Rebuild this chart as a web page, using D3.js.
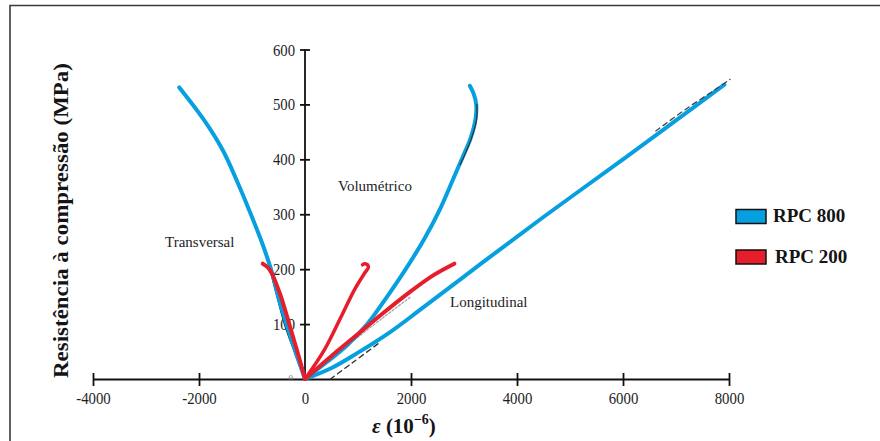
<!DOCTYPE html>
<html><head><meta charset="utf-8">
<script src="https://cdn.jsdelivr.net/npm/d3@7/dist/d3.min.js"></script>
<style>
body{margin:0;background:#fff;}
svg{display:block;}
</style></head>
<body>
<svg id="chart" width="880" height="441"></svg>
<script>
// ---- data (strain in 1e-6, stress in MPa) ----
const xTicks = [-4000, -2000, 0, 2000, 4000, 6000, 8000];
const yTicks = [100, 200, 300, 400, 500, 600];
const seriesNames = ["RPC 800", "RPC 200"];
const curveLabels = ["Transversal", "Volumétrico", "Longitudinal"];

const rpc800Transversal = [[0,0],[-180,50],[-350,100],[-505,150],[-642,200],[-830,253],[-1051,307],[-1290,362],[-1553,417],[-1900,471],[-2372,531]];
const rpc800Volumetric  = [[0,0],[400,30],[800,62],[1183,101],[1550,150],[1900,200],[2250,255],[2550,310],[2800,365],[2980,405],[3130,440],[3220,475],[3230,500],[3180,520],[3110,534]];
const rpc800Longitudinal= [[0,0],[500,20],[1000,48],[1600,85],[2200,128],[3321,210],[4500,295],[6000,400],[7000,471],[7913,536]];

const rpc200Transversal = [[0,0],[-130,45],[-264,89],[-453,150],[-530,170],[-610,189],[-700,203],[-798,210]];
const rpc200Volumetric  = [[0,0],[365,53],[679,113],[930,162],[1120,192],[1195,203],[1180,208],[1120,210],[1085,208]];
const rpc200Longitudinal= [[0,0],[500,42],[1000,82],[1500,122],[2000,160],[2440,190],[2818,210]];

// faint black reference curves underneath (from original figure)
const refTransversal = [[0,0],[-195,50],[-380,100],[-520,150],[-640,195]];
const refLongDash    = [[480,0],[900,30],[1430,68]];
const refLongTop     = [[6600,448],[7200,490],[7700,522],[8000,542]];
const refLongDotted  = [[930,71],[1450,110],[2000,150]];
const refVolEdge     = [[2900,390],[3100,435],[3205,470],[3215,500]];

// ---- layout ----
const serif = "'Liberation Serif','DejaVu Serif',serif";
const svg = d3.select("#chart");
const x = d3.scaleLinear().domain([-4000, 8000]).range([93, 729]);
const y = d3.scaleLinear().domain([0, 600]).range([379, 49.5]);

// border (top & left)
svg.append("path").attr("d","M10,441 L10,5.5 L880,5.5").attr("fill","none").attr("stroke","#3a3a3a").attr("stroke-width",1.6);

// X axis
const xAxis = svg.append("g").attr("transform",`translate(0,${y(0)})`)
  .call(d3.axisBottom(x).tickValues(xTicks).tickSize(0).tickPadding(0).tickFormat(d=>String(d)));
xAxis.select(".domain").attr("stroke","#111").attr("stroke-width",1.8);
xAxis.selectAll(".tick line").attr("y1",-6).attr("y2",7).attr("stroke","#111").attr("stroke-width",1.8)
  .filter(d=>d===0).remove();
xAxis.selectAll(".tick text").attr("y",0).attr("dy",0)
  .attr("transform","translate(0,25) scale(0.87,1)")
  .attr("font-family",serif).attr("font-size",17).attr("fill","#1e1e1e");

// Y axis
const yAxis = svg.append("g").attr("transform",`translate(${x(0)},0)`)
  .call(d3.axisLeft(y).tickValues(yTicks).tickSize(0).tickPadding(0).tickFormat(d=>String(d)));
yAxis.select(".domain").attr("d",`M0,${y(0)}V${y(600)}`).attr("stroke","#111").attr("stroke-width",1.8);
yAxis.selectAll(".tick line").attr("x1",-5).attr("x2",5).attr("stroke","#111").attr("stroke-width",1.8);
yAxis.selectAll(".tick text").attr("x",0).attr("dy",0)
  .attr("transform","translate(-10,5.5) scale(0.92,1)")
  .attr("font-family",serif).attr("font-size",16).attr("fill","#1e1e1e");
// small y "0"
svg.append("text").attr("x",x(0)-12).attr("y",y(0)+2).attr("text-anchor","end")
  .attr("font-family",serif).attr("font-size",9).attr("fill","#777").text("0");

// ---- curves ----
const line = d3.line().x(d=>x(d[0])).y(d=>y(d[1])).curve(d3.curveCatmullRom.alpha(0.5));
const g = svg.append("g");
function draw(data, color, w, dash){
  const p = g.append("path").datum(data).attr("d",line).attr("fill","none")
    .attr("stroke",color).attr("stroke-width",w).attr("stroke-linecap","round").attr("stroke-linejoin","round");
  if(dash) p.attr("stroke-dasharray",dash);
  return p;
}
draw(refTransversal, "#222", 2.2);
draw(refLongDash, "#333", 1.4, "5,4");
draw(refLongDotted, "#aaa", 1.4, "2,2");

const blue = "#06a0e0", red = "#e61e2b";
draw(rpc800Transversal, blue, 4);
draw(rpc800Volumetric, blue, 4);
draw(rpc800Longitudinal, blue, 4);
draw(refLongTop, "#444", 1.3, "5,4").attr("transform","translate(1,-2)");
draw(refVolEdge, "#333", 1.2).attr("transform","translate(1.5,0)");

draw(rpc200Transversal, red, 4);
draw(rpc200Volumetric, red, 3.5);
draw(rpc200Longitudinal, red, 4);

// curve labels
const lab = [[curveLabels[0],165,247],[curveLabels[1],338,191],[curveLabels[2],450,307]];
svg.selectAll(".clab").data(lab).join("text").attr("class","clab")
  .attr("x",d=>d[1]).attr("y",d=>d[2])
  .attr("font-family",serif).attr("font-size",15).attr("fill","#1e1e1e").text(d=>d[0]);

// axis titles
svg.append("text").attr("transform",`translate(68,220.5) rotate(-90)`)
  .attr("text-anchor","middle").attr("font-family",serif).attr("font-weight","bold")
  .attr("font-size",21).attr("fill","#141414").attr("textLength",315).attr("lengthAdjust","spacingAndGlyphs")
  .text("Resistência à compressão (MPa)");

const xt = svg.append("text").attr("x",372).attr("y",433)
  .attr("font-family",serif).attr("font-weight","bold").attr("font-size",21).attr("fill","#141414");
xt.append("tspan").attr("font-style","italic").text("ε");
xt.append("tspan").text(" (10");
xt.append("tspan").attr("font-size",14).attr("dy",-9).text("−6");
xt.append("tspan").attr("dy",9).text(")");

// legend
const colors = [blue, red];
const leg = svg.selectAll(".leg").data(seriesNames).join("g").attr("class","leg")
  .attr("transform",(d,i)=>`translate(736,${209.5+i*40.5})`);
leg.append("rect").attr("width",30).attr("height",14).attr("fill",(d,i)=>colors[i]).attr("stroke","#111").attr("stroke-width",1.5);
leg.append("text").attr("x",(d,i)=>37+i*2).attr("y",12.5)
  .attr("font-family",serif).attr("font-weight","bold").attr("font-size",19).attr("fill","#141414").text(d=>d);
</script>
</body></html>
